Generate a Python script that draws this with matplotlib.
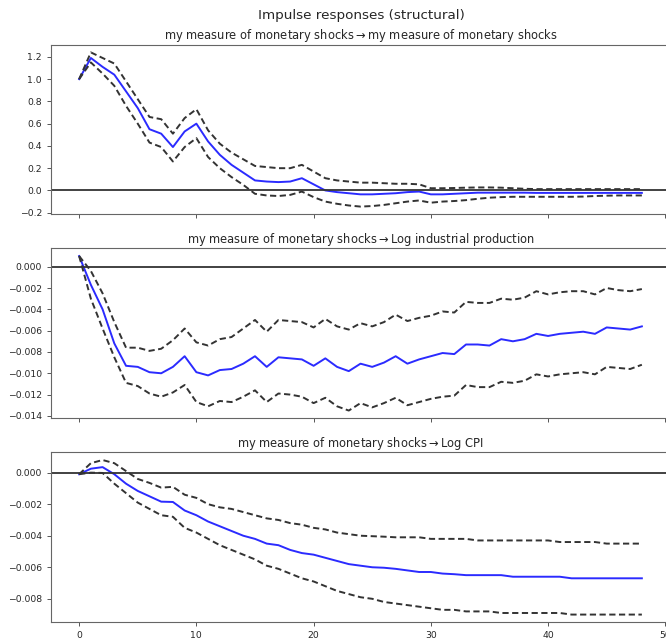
import matplotlib
matplotlib.use("Agg")
import matplotlib.pyplot as plt
import numpy as np

periods = list(range(49))

# Panel 1: shock -> shock
irf1 = [1.00, 1.19, 1.11, 1.04, 0.89, 0.74, 0.55, 0.51, 0.39, 0.53,
        0.60, 0.44, 0.32, 0.23, 0.16, 0.09, 0.08, 0.075, 0.08, 0.11,
        0.055, 0.00, -0.015, -0.025, -0.035, -0.035, -0.03, -0.025, -0.015, -0.01,
        -0.035, -0.035, -0.03, -0.025, -0.02, -0.02, -0.02, -0.02, -0.02, -0.022,
        -0.022, -0.022, -0.022, -0.022, -0.022, -0.022, -0.022, -0.022, -0.022]
up1 = [1.00, 1.24, 1.19, 1.14, 0.98, 0.82, 0.66, 0.64, 0.51, 0.65,
       0.73, 0.54, 0.42, 0.34, 0.28, 0.22, 0.21, 0.20, 0.20, 0.23,
       0.17, 0.11, 0.09, 0.08, 0.07, 0.07, 0.065, 0.06, 0.06, 0.055,
       0.02, 0.02, 0.022, 0.025, 0.027, 0.027, 0.025, 0.02, 0.015, 0.012,
       0.012, 0.012, 0.012, 0.012, 0.012, 0.012, 0.012, 0.012, 0.012]
lo1 = [1.00, 1.15, 1.05, 0.94, 0.76, 0.60, 0.43, 0.39, 0.26, 0.39,
       0.47, 0.30, 0.20, 0.12, 0.05, -0.03, -0.045, -0.05, -0.04, -0.01,
       -0.06, -0.10, -0.12, -0.135, -0.145, -0.14, -0.13, -0.115, -0.10, -0.09,
       -0.11, -0.10, -0.095, -0.087, -0.075, -0.065, -0.06, -0.057, -0.057, -0.057,
       -0.057, -0.057, -0.057, -0.055, -0.05, -0.047, -0.045, -0.045, -0.045]

# Panel 2: shock -> log industrial production
irf2 = [0.0010, -0.0017, -0.0040, -0.0072, -0.0093, -0.0094, -0.0099, -0.0100, -0.0094, -0.0084,
        -0.0099, -0.0102, -0.0097, -0.0096, -0.0091, -0.0084, -0.0094, -0.0085, -0.0086, -0.0087,
        -0.0093, -0.0086, -0.0094, -0.0098, -0.0091, -0.0094, -0.0090, -0.0084, -0.0091, -0.0087,
        -0.0084, -0.0081, -0.0082, -0.0073, -0.0073, -0.0074, -0.0068, -0.0070, -0.0068, -0.0063,
        -0.0065, -0.0063, -0.0062, -0.0061, -0.0063, -0.0057, -0.0058, -0.0059, -0.0056]
up2 = [0.0010, -0.0004, -0.0025, -0.0052, -0.0076, -0.0076, -0.0079, -0.0077, -0.0069, -0.0058,
       -0.0071, -0.0074, -0.0068, -0.0066, -0.0058, -0.0050, -0.0061, -0.0050, -0.0051, -0.0052,
       -0.0057, -0.0049, -0.0056, -0.0059, -0.0053, -0.0056, -0.0052, -0.0045, -0.0051, -0.0048,
       -0.0046, -0.0042, -0.0043, -0.0033, -0.0034, -0.0034, -0.0030, -0.0031, -0.0029, -0.0023,
       -0.0026, -0.0024, -0.0023, -0.0023, -0.0026, -0.0020, -0.0022, -0.0023, -0.0021]
lo2 = [0.0010, -0.0030, -0.0058, -0.0085, -0.0109, -0.0112, -0.0119, -0.0122, -0.0118, -0.0111,
       -0.0127, -0.0131, -0.0126, -0.0127, -0.0122, -0.0116, -0.0127, -0.0119, -0.0120, -0.0122,
       -0.0128, -0.0123, -0.0131, -0.0135, -0.0128, -0.0132, -0.0128, -0.0123, -0.0130, -0.0127,
       -0.0124, -0.0122, -0.0121, -0.0111, -0.0113, -0.0113, -0.0108, -0.0109, -0.0107, -0.0101,
       -0.0103, -0.0101, -0.0100, -0.0099, -0.0101, -0.0094, -0.0095, -0.0096, -0.0092]

# Panel 3: shock -> log CPI
irf3 = [-0.0001, 0.00025, 0.00035, -0.0001, -0.0007, -0.00116, -0.0015, -0.00184, -0.00186, -0.0024,
        -0.0027, -0.0031, -0.0034, -0.0037, -0.0040, -0.0042, -0.0045, -0.0046, -0.0049, -0.0051,
        -0.0052, -0.0054, -0.0056, -0.0058, -0.0059, -0.0060, -0.00603, -0.0061, -0.0062, -0.0063,
        -0.0063, -0.0064, -0.00644, -0.0065, -0.0065, -0.0065, -0.0065, -0.0066, -0.0066, -0.0066,
        -0.0066, -0.0066, -0.0067, -0.0067, -0.0067, -0.0067, -0.0067, -0.0067, -0.0067]
up3 = [-0.0001, 0.0006, 0.0008, 0.0006, 0.0001, -0.0004, -0.00065, -0.00095, -0.0009, -0.0014,
       -0.0016, -0.0020, -0.0022, -0.0023, -0.0025, -0.0027, -0.0029, -0.0030, -0.0032, -0.0033,
       -0.0035, -0.0036, -0.0038, -0.0039, -0.0040, -0.00403, -0.00406, -0.0041, -0.0041, -0.0041,
       -0.0042, -0.0042, -0.0042, -0.0042, -0.0043, -0.0043, -0.0043, -0.0043, -0.0043, -0.0043,
       -0.0043, -0.0044, -0.0044, -0.0044, -0.0044, -0.0045, -0.0045, -0.0045, -0.0045]
lo3 = [-0.0001, 0.0000, -0.00002, -0.0007, -0.0013, -0.0019, -0.0023, -0.0027, -0.0028, -0.0035,
       -0.0038, -0.0042, -0.0046, -0.0049, -0.0052, -0.0055, -0.0059, -0.0061, -0.0064, -0.0067,
       -0.0069, -0.0072, -0.0075, -0.0077, -0.0079, -0.0080, -0.0082, -0.0083, -0.0084, -0.0085,
       -0.0086, -0.0087, -0.0087, -0.0088, -0.0088, -0.0088, -0.0089, -0.0089, -0.0089, -0.0089,
       -0.0089, -0.0089, -0.0090, -0.0090, -0.0090, -0.0090, -0.0090, -0.0090, -0.0090]

shock_name = "my measure of monetary shocks"
response_names = ["my measure of monetary shocks", "Log industrial production", "Log CPI"]
x_ticks = [0, 10, 20, 30, 40, 50]
suptitle = "Impulse responses (structural)"

panels = [(irf1, up1, lo1), (irf2, up2, lo2), (irf3, up3, lo3)]

W, H = 666, 640
fig = plt.figure(figsize=(W / 100, H / 100), dpi=100)
text_color = "#262626"
plt.rcParams["text.color"] = text_color

left_px, right_px = 51, 670
tops = [44.7, 248.3, 452.3]
bottoms = [214.3, 418.3, 622.3]

axes = []
for k, ((irf, up, lo), rname) in enumerate(zip(panels, response_names)):
    ax = fig.add_axes([left_px / W, 1 - bottoms[k] / H,
                       (right_px - left_px) / W, (bottoms[k] - tops[k]) / H])
    ax.plot(periods, irf, color="#2b2bff", lw=1.4)
    ax.plot(periods, up, color="#333333", ls="--", lw=1.4, dashes=(3.2, 1.8))
    ax.plot(periods, lo, color="#333333", ls="--", lw=1.4, dashes=(3.2, 1.8))
    ax.axhline(0, color="#333333", lw=1.3)
    ax.set_xticks(x_ticks)
    ax.set_xlim(-2.4, 50.4)
    ax.set_title(shock_name + r"$\rightarrow$" + rname, fontsize=8.3, pad=4, color=text_color)
    ax.tick_params(labelsize=6.7, length=3, width=0.7, colors="#555555", labelcolor=text_color)
    for s in ax.spines.values():
        s.set_color("#666666")
        s.set_linewidth(0.8)
    if k < 2:
        ax.set_xticklabels([])
    axes.append(ax)

fig.text(361 / W, 1 - 15 / H, suptitle, ha="center", va="center", fontsize=9.7, color=text_color)

fig.savefig("out.png", dpi=100)
